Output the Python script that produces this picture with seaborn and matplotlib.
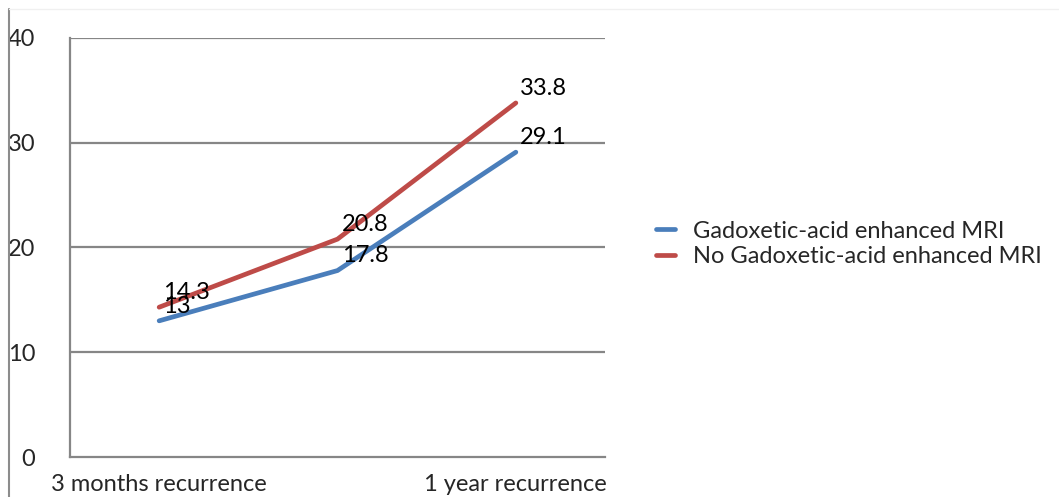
import matplotlib
matplotlib.use("Agg")
import matplotlib.pyplot as plt
from matplotlib.lines import Line2D
import seaborn as sns
import pandas as pd

categories = ["3 months recurrence", "6 months recurrence", "1 year recurrence"]
shown_labels = ["3 months recurrence", "", "1 year recurrence"]
gadoxetic = [13, 17.8, 29.1]
no_gadoxetic = [14.3, 20.8, 33.8]
series_names = ["Gadoxetic-acid enhanced MRI", "No Gadoxetic-acid enhanced MRI"]
colors = ["#4A7EBB", "#BE4B48"]
y_ticks = [0, 10, 20, 30, 40]

sns.set_style("white")
plt.rcParams["font.family"] = ["Lato", "DejaVu Sans"]
FS = 17

df = pd.DataFrame({
    "pos": list(range(len(categories))) * 2,
    "value": gadoxetic + no_gadoxetic,
    "series": [series_names[0]] * len(categories) + [series_names[1]] * len(categories),
})

fig = plt.figure(figsize=(10.59, 4.97), dpi=100)
ax = fig.add_axes([70 / 1059, 40 / 497, 535 / 1059, 419 / 497])

grid_c = "#868686"
for t in y_ticks[1:]:
    ax.axhline(t, color=grid_c, lw=1.6, zorder=1)

sns.lineplot(data=df, x="pos", y="value", hue="series", palette=colors,
             linewidth=3.4, legend=False, ax=ax, zorder=3)

for vals in (gadoxetic, no_gadoxetic):
    for i, v in enumerate(vals):
        ax.annotate(f"{v:g}", (i, v), xytext=(3, 3), textcoords="offset points",
                    ha="left", va="bottom", fontsize=FS, color="black", zorder=4)

ax.set_xlim(-0.5, len(categories) - 0.5)
ax.set_ylim(0, 40)
ax.set_xlabel("")
ax.set_ylabel("")

ax.set_yticks(y_ticks)
ax.tick_params(axis="y", length=4, width=1.6, color=grid_c, pad=21, labelsize=FS)
for lbl in ax.get_yticklabels():
    lbl.set_horizontalalignment("right")

ax.set_xticks([i - 0.5 for i in range(len(categories) + 1)])
ax.set_xticklabels([])
ax.tick_params(axis="x", which="major", length=6, width=1.6, color=grid_c)
ax.set_xticks(range(len(categories)), minor=True)
ax.set_xticklabels(shown_labels, minor=True)
ax.tick_params(axis="x", which="minor", length=0, pad=12, labelsize=FS)

for side in ("top", "right"):
    ax.spines[side].set_visible(False)
for side in ("left", "bottom"):
    ax.spines[side].set_color(grid_c)
    ax.spines[side].set_linewidth(1.6)

handles = [Line2D([], [], color=c, lw=3.4) for c in colors]
fig.legend(handles, series_names, loc="center left", bbox_to_anchor=(656 / 1059, 1 - 244 / 497),
           frameon=False, fontsize=FS, handlelength=0.8, handletextpad=0.75,
           labelspacing=0.2, borderaxespad=0, borderpad=0)

# outer frame edges
fig.add_artist(Line2D([9 / 1059, 9 / 1059], [0, 1 - 9 / 497], transform=fig.transFigure,
                      color="#8c8c8c", lw=1.5))
fig.add_artist(Line2D([9 / 1059, 1], [1 - 9 / 497, 1 - 9 / 497], transform=fig.transFigure,
                      color="#f0f0f0", lw=1.0))

fig.savefig("out.png", dpi=100)
